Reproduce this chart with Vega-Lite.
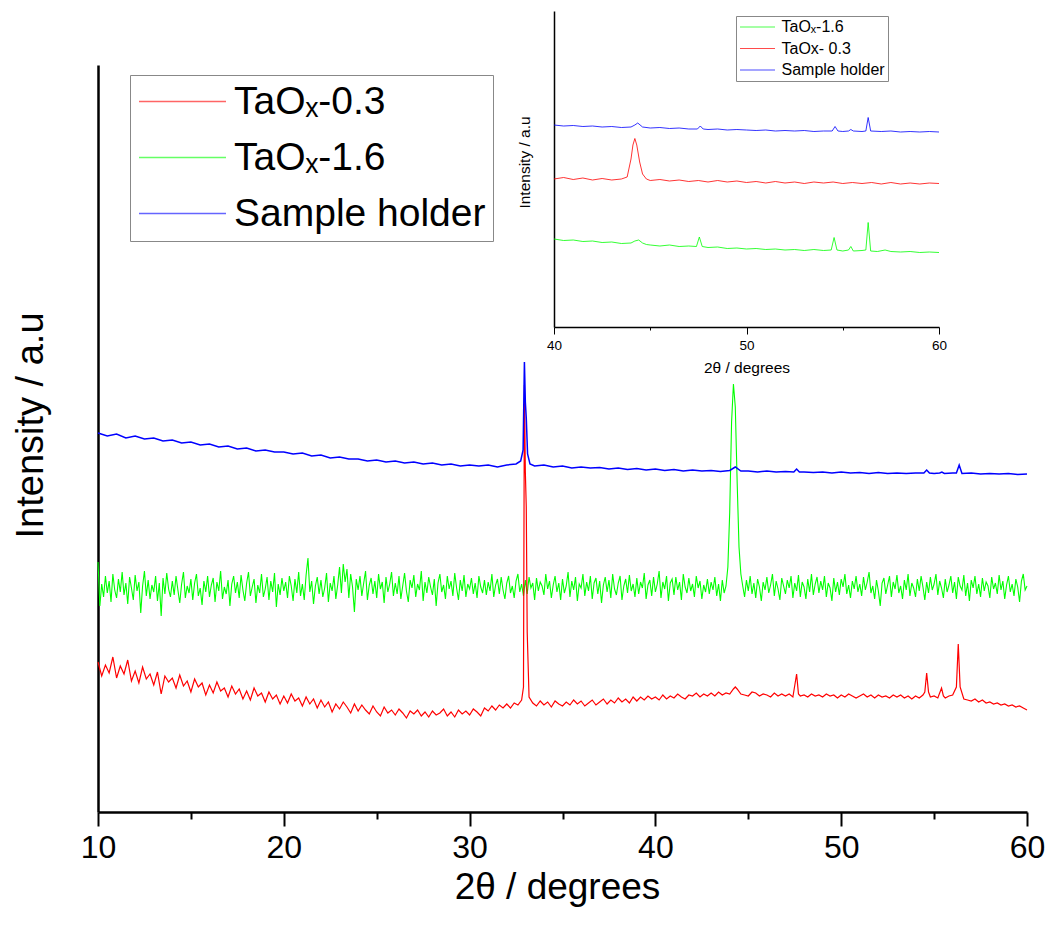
{
"$schema": "https://vega.github.io/schema/vega-lite/v6.json",
"width": 929, "height": 747,
"autosize": {"type": "none"},
"padding": {"left": 98, "top": 65, "right": 22, "bottom": 122},
"background": "white",
"config": {"view": {"stroke": null}, "font": "Liberation Sans", "axis": {"grid": false, "labelColor": "black", "titleColor": "black", "titleFontWeight": "normal"}},
"datasets": {
"mainGreen": [
{"t":10.0,"v":250},{"t":10.1,"v":206},{"t":10.2,"v":228},{"t":10.3,"v":215},{"t":10.4,"v":236},{"t":10.5,"v":219},{"t":10.6,"v":231},{"t":10.7,"v":210},{"t":10.8,"v":238},{"t":10.9,"v":222},
{"t":11.0,"v":214},{"t":11.1,"v":233},{"t":11.2,"v":220},{"t":11.3,"v":240},{"t":11.4,"v":217},{"t":11.5,"v":229},{"t":11.6,"v":208},{"t":11.7,"v":235},{"t":11.8,"v":224},{"t":11.9,"v":212},
{"t":12.0,"v":237},{"t":12.1,"v":221},{"t":12.2,"v":230},{"t":12.3,"v":199},{"t":12.4,"v":226},{"t":12.5,"v":241},{"t":12.6,"v":216},{"t":12.7,"v":232},{"t":12.8,"v":213},{"t":12.9,"v":227},
{"t":13.0,"v":220},{"t":13.1,"v":236},{"t":13.2,"v":211},{"t":13.3,"v":229},{"t":13.4,"v":196},{"t":13.5,"v":234},{"t":13.6,"v":218},{"t":13.7,"v":239},{"t":13.8,"v":223},{"t":13.9,"v":215},
{"t":14.0,"v":231},{"t":14.1,"v":217},{"t":14.2,"v":236},{"t":14.3,"v":222},{"t":14.4,"v":209},{"t":14.5,"v":228},{"t":14.6,"v":240},{"t":14.7,"v":214},{"t":14.8,"v":226},{"t":14.9,"v":219},
{"t":15.0,"v":233},{"t":15.1,"v":212},{"t":15.2,"v":229},{"t":15.3,"v":238},{"t":15.4,"v":216},{"t":15.5,"v":224},{"t":15.6,"v":207},{"t":15.7,"v":231},{"t":15.8,"v":220},{"t":15.9,"v":236},
{"t":16.0,"v":215},{"t":16.1,"v":227},{"t":16.2,"v":234},{"t":16.3,"v":210},{"t":16.4,"v":230},{"t":16.5,"v":221},{"t":16.6,"v":241},{"t":16.7,"v":213},{"t":16.8,"v":225},{"t":16.9,"v":218},
{"t":17.0,"v":232},{"t":17.1,"v":206},{"t":17.2,"v":228},{"t":17.3,"v":236},{"t":17.4,"v":219},{"t":17.5,"v":230},{"t":17.6,"v":214},{"t":17.7,"v":237},{"t":17.8,"v":222},{"t":17.9,"v":211},
{"t":18.0,"v":229},{"t":18.1,"v":240},{"t":18.2,"v":216},{"t":18.3,"v":225},{"t":18.4,"v":233},{"t":18.5,"v":209},{"t":18.6,"v":227},{"t":18.7,"v":219},{"t":18.8,"v":238},{"t":18.9,"v":215},
{"t":19.0,"v":223},{"t":19.1,"v":235},{"t":19.2,"v":212},{"t":19.3,"v":231},{"t":19.4,"v":220},{"t":19.5,"v":239},{"t":19.6,"v":205},{"t":19.7,"v":228},{"t":19.8,"v":217},{"t":19.9,"v":234},
{"t":20.0,"v":221},{"t":20.1,"v":230},{"t":20.2,"v":214},{"t":20.3,"v":236},{"t":20.4,"v":226},{"t":20.5,"v":211},{"t":20.6,"v":233},{"t":20.7,"v":219},{"t":20.8,"v":240},{"t":20.9,"v":216},
{"t":21.0,"v":228},{"t":21.1,"v":212},{"t":21.2,"v":237},{"t":21.3,"v":254},{"t":21.4,"v":220},{"t":21.5,"v":231},{"t":21.6,"v":208},{"t":21.7,"v":226},{"t":21.8,"v":235},{"t":21.9,"v":218},
{"t":22.0,"v":232},{"t":22.1,"v":215},{"t":22.2,"v":224},{"t":22.3,"v":239},{"t":22.4,"v":210},{"t":22.5,"v":229},{"t":22.6,"v":221},{"t":22.7,"v":236},{"t":22.8,"v":213},{"t":22.9,"v":227},
{"t":23.0,"v":245},{"t":23.1,"v":219},{"t":23.2,"v":248},{"t":23.3,"v":230},{"t":23.4,"v":243},{"t":23.5,"v":214},{"t":23.6,"v":238},{"t":23.7,"v":225},{"t":23.8,"v":200},{"t":23.9,"v":233},
{"t":24.0,"v":222},{"t":24.1,"v":236},{"t":24.2,"v":216},{"t":24.3,"v":229},{"t":24.4,"v":241},{"t":24.5,"v":212},{"t":24.6,"v":227},{"t":24.7,"v":234},{"t":24.8,"v":218},{"t":24.9,"v":231},
{"t":25.0,"v":214},{"t":25.1,"v":238},{"t":25.2,"v":223},{"t":25.3,"v":230},{"t":25.4,"v":209},{"t":25.5,"v":235},{"t":25.6,"v":220},{"t":25.7,"v":228},{"t":25.8,"v":240},{"t":25.9,"v":216},
{"t":26.0,"v":229},{"t":26.1,"v":218},{"t":26.2,"v":236},{"t":26.3,"v":213},{"t":26.4,"v":226},{"t":26.5,"v":239},{"t":26.6,"v":221},{"t":26.7,"v":210},{"t":26.8,"v":232},{"t":26.9,"v":224},
{"t":27.0,"v":237},{"t":27.1,"v":215},{"t":27.2,"v":228},{"t":27.3,"v":222},{"t":27.4,"v":241},{"t":27.5,"v":211},{"t":27.6,"v":230},{"t":27.7,"v":219},{"t":27.8,"v":235},{"t":27.9,"v":225},
{"t":28.0,"v":217},{"t":28.1,"v":233},{"t":28.2,"v":206},{"t":28.3,"v":229},{"t":28.4,"v":238},{"t":28.5,"v":220},{"t":28.6,"v":227},{"t":28.7,"v":213},{"t":28.8,"v":236},{"t":28.9,"v":223},
{"t":29.0,"v":231},{"t":29.1,"v":216},{"t":29.2,"v":239},{"t":29.3,"v":224},{"t":29.4,"v":212},{"t":29.5,"v":232},{"t":29.6,"v":221},{"t":29.7,"v":237},{"t":29.8,"v":215},{"t":29.9,"v":228},
{"t":30.0,"v":223},{"t":30.1,"v":234},{"t":30.2,"v":218},{"t":30.3,"v":229},{"t":30.4,"v":214},{"t":30.5,"v":236},{"t":30.6,"v":225},{"t":30.7,"v":219},{"t":30.8,"v":232},{"t":30.9,"v":217},
{"t":31.0,"v":230},{"t":31.1,"v":221},{"t":31.2,"v":238},{"t":31.3,"v":215},{"t":31.4,"v":227},{"t":31.5,"v":233},{"t":31.6,"v":218},{"t":31.7,"v":235},{"t":31.8,"v":222},{"t":31.9,"v":213},
{"t":32.0,"v":229},{"t":32.1,"v":236},{"t":32.2,"v":219},{"t":32.3,"v":226},{"t":32.4,"v":214},{"t":32.5,"v":231},{"t":32.6,"v":238},{"t":32.7,"v":220},{"t":32.8,"v":228},{"t":32.9,"v":216},
{"t":33.0,"v":232},{"t":33.1,"v":218},{"t":33.2,"v":235},{"t":33.3,"v":224},{"t":33.4,"v":229},{"t":33.5,"v":212},{"t":33.6,"v":234},{"t":33.7,"v":221},{"t":33.8,"v":230},{"t":33.9,"v":226},
{"t":34.0,"v":217},{"t":34.1,"v":238},{"t":34.2,"v":223},{"t":34.3,"v":231},{"t":34.4,"v":214},{"t":34.5,"v":227},{"t":34.6,"v":236},{"t":34.7,"v":220},{"t":34.8,"v":229},{"t":34.9,"v":212},
{"t":35.0,"v":233},{"t":35.1,"v":219},{"t":35.2,"v":226},{"t":35.3,"v":240},{"t":35.4,"v":215},{"t":35.5,"v":231},{"t":35.6,"v":222},{"t":35.7,"v":235},{"t":35.8,"v":211},{"t":35.9,"v":228},
{"t":36.0,"v":224},{"t":36.1,"v":238},{"t":36.2,"v":216},{"t":36.3,"v":230},{"t":36.4,"v":221},{"t":36.5,"v":236},{"t":36.6,"v":213},{"t":36.7,"v":229},{"t":36.8,"v":234},{"t":36.9,"v":218},
{"t":37.0,"v":231},{"t":37.1,"v":209},{"t":37.2,"v":227},{"t":37.3,"v":235},{"t":37.4,"v":220},{"t":37.5,"v":232},{"t":37.6,"v":214},{"t":37.7,"v":238},{"t":37.8,"v":223},{"t":37.9,"v":217},
{"t":38.0,"v":229},{"t":38.1,"v":236},{"t":38.2,"v":212},{"t":38.3,"v":226},{"t":38.4,"v":233},{"t":38.5,"v":219},{"t":38.6,"v":237},{"t":38.7,"v":221},{"t":38.8,"v":228},{"t":38.9,"v":215},
{"t":39.0,"v":234},{"t":39.1,"v":218},{"t":39.2,"v":230},{"t":39.3,"v":224},{"t":39.4,"v":239},{"t":39.5,"v":213},{"t":39.6,"v":227},{"t":39.7,"v":232},{"t":39.8,"v":216},{"t":39.9,"v":235},
{"t":40.0,"v":220},{"t":40.1,"v":228},{"t":40.2,"v":241},{"t":40.3,"v":214},{"t":40.4,"v":230},{"t":40.5,"v":223},{"t":40.6,"v":236},{"t":40.7,"v":211},{"t":40.8,"v":229},{"t":40.9,"v":233},
{"t":41.0,"v":217},{"t":41.1,"v":235},{"t":41.2,"v":222},{"t":41.3,"v":230},{"t":41.4,"v":212},{"t":41.5,"v":238},{"t":41.6,"v":225},{"t":41.7,"v":219},{"t":41.8,"v":234},{"t":41.9,"v":221},
{"t":42.0,"v":228},{"t":42.1,"v":215},{"t":42.2,"v":236},{"t":42.3,"v":224},{"t":42.4,"v":231},{"t":42.5,"v":213},{"t":42.6,"v":227},{"t":42.7,"v":220},{"t":42.8,"v":233},{"t":42.9,"v":218},
{"t":43.0,"v":230},{"t":43.1,"v":222},{"t":43.2,"v":235},{"t":43.3,"v":216},{"t":43.4,"v":228},{"t":43.5,"v":211},{"t":43.6,"v":232},{"t":43.7,"v":219},{"t":43.8,"v":226},{"t":43.9,"v":245},
{"t":44.0,"v":300},{"t":44.1,"v":390},{"t":44.2,"v":428},{"t":44.3,"v":405},{"t":44.4,"v":330},{"t":44.5,"v":265},{"t":44.6,"v":238},{"t":44.7,"v":226},{"t":44.8,"v":215},{"t":44.9,"v":232},
{"t":45.0,"v":221},{"t":45.1,"v":236},{"t":45.2,"v":218},{"t":45.3,"v":229},{"t":45.4,"v":214},{"t":45.5,"v":233},{"t":45.6,"v":225},{"t":45.7,"v":211},{"t":45.8,"v":230},{"t":45.9,"v":222},
{"t":46.0,"v":235},{"t":46.1,"v":219},{"t":46.2,"v":227},{"t":46.3,"v":238},{"t":46.4,"v":216},{"t":46.5,"v":231},{"t":46.6,"v":223},{"t":46.7,"v":212},{"t":46.8,"v":234},{"t":46.9,"v":226},
{"t":47.0,"v":218},{"t":47.1,"v":232},{"t":47.2,"v":224},{"t":47.3,"v":236},{"t":47.4,"v":214},{"t":47.5,"v":229},{"t":47.6,"v":221},{"t":47.7,"v":237},{"t":47.8,"v":215},{"t":47.9,"v":230},
{"t":48.0,"v":225},{"t":48.1,"v":213},{"t":48.2,"v":233},{"t":48.3,"v":220},{"t":48.4,"v":238},{"t":48.5,"v":217},{"t":48.6,"v":228},{"t":48.7,"v":235},{"t":48.8,"v":219},{"t":48.9,"v":231},
{"t":49.0,"v":222},{"t":49.1,"v":236},{"t":49.2,"v":215},{"t":49.3,"v":229},{"t":49.4,"v":224},{"t":49.5,"v":211},{"t":49.6,"v":234},{"t":49.7,"v":220},{"t":49.8,"v":230},{"t":49.9,"v":217},
{"t":50.0,"v":233},{"t":50.1,"v":225},{"t":50.2,"v":238},{"t":50.3,"v":218},{"t":50.4,"v":227},{"t":50.5,"v":214},{"t":50.6,"v":231},{"t":50.7,"v":223},{"t":50.8,"v":236},{"t":50.9,"v":220},
{"t":51.0,"v":228},{"t":51.1,"v":216},{"t":51.2,"v":235},{"t":51.3,"v":222},{"t":51.4,"v":230},{"t":51.5,"v":240},{"t":51.6,"v":219},{"t":51.7,"v":226},{"t":51.8,"v":213},{"t":51.9,"v":232},
{"t":52.0,"v":221},{"t":52.1,"v":206},{"t":52.2,"v":229},{"t":52.3,"v":234},{"t":52.4,"v":218},{"t":52.5,"v":227},{"t":52.6,"v":236},{"t":52.7,"v":215},{"t":52.8,"v":230},{"t":52.9,"v":223},
{"t":53.0,"v":237},{"t":53.1,"v":219},{"t":53.2,"v":226},{"t":53.3,"v":213},{"t":53.4,"v":232},{"t":53.5,"v":222},{"t":53.6,"v":238},{"t":53.7,"v":216},{"t":53.8,"v":229},{"t":53.9,"v":224},
{"t":54.0,"v":215},{"t":54.1,"v":233},{"t":54.2,"v":221},{"t":54.3,"v":236},{"t":54.4,"v":225},{"t":54.5,"v":212},{"t":54.6,"v":230},{"t":54.7,"v":219},{"t":54.8,"v":235},{"t":54.9,"v":222},
{"t":55.0,"v":228},{"t":55.1,"v":238},{"t":55.2,"v":217},{"t":55.3,"v":231},{"t":55.4,"v":224},{"t":55.5,"v":214},{"t":55.6,"v":233},{"t":55.7,"v":220},{"t":55.8,"v":227},{"t":55.9,"v":236},
{"t":56.0,"v":219},{"t":56.1,"v":230},{"t":56.2,"v":213},{"t":56.3,"v":235},{"t":56.4,"v":226},{"t":56.5,"v":222},{"t":56.6,"v":237},{"t":56.7,"v":216},{"t":56.8,"v":229},{"t":56.9,"v":211},
{"t":57.0,"v":232},{"t":57.1,"v":224},{"t":57.2,"v":236},{"t":57.3,"v":218},{"t":57.4,"v":228},{"t":57.5,"v":215},{"t":57.6,"v":234},{"t":57.7,"v":221},{"t":57.8,"v":230},{"t":57.9,"v":226},
{"t":58.0,"v":214},{"t":58.1,"v":235},{"t":58.2,"v":223},{"t":58.3,"v":229},{"t":58.4,"v":218},{"t":58.5,"v":237},{"t":58.6,"v":222},{"t":58.7,"v":231},{"t":58.8,"v":213},{"t":58.9,"v":227},
{"t":59.0,"v":236},{"t":59.1,"v":220},{"t":59.2,"v":228},{"t":59.3,"v":216},{"t":59.4,"v":233},{"t":59.5,"v":225},{"t":59.6,"v":210},{"t":59.7,"v":231},{"t":59.8,"v":238},{"t":59.9,"v":222},
{"t":60.0,"v":226}
],
"mainRed": [
{"t":10.0,"v":150},{"t":10.2,"v":136},{"t":10.4,"v":147},{"t":10.6,"v":139},{"t":10.8,"v":155},
{"t":11.0,"v":134},{"t":11.2,"v":146},{"t":11.4,"v":138},{"t":11.6,"v":152},{"t":11.8,"v":131},
{"t":12.0,"v":141},{"t":12.2,"v":129},{"t":12.4,"v":145},{"t":12.6,"v":133},{"t":12.8,"v":138},
{"t":13.0,"v":127},{"t":13.2,"v":140},{"t":13.4,"v":118},{"t":13.6,"v":136},{"t":13.8,"v":130},
{"t":14.0,"v":134},{"t":14.2,"v":124},{"t":14.4,"v":137},{"t":14.6,"v":126},{"t":14.8,"v":131},
{"t":15.0,"v":120},{"t":15.2,"v":133},{"t":15.4,"v":125},{"t":15.6,"v":129},{"t":15.8,"v":117},
{"t":16.0,"v":127},{"t":16.2,"v":119},{"t":16.4,"v":130},{"t":16.6,"v":121},{"t":16.8,"v":124},
{"t":17.0,"v":115},{"t":17.2,"v":126},{"t":17.4,"v":118},{"t":17.6,"v":123},{"t":17.8,"v":113},
{"t":18.0,"v":121},{"t":18.2,"v":112},{"t":18.4,"v":124},{"t":18.6,"v":116},{"t":18.8,"v":119},
{"t":19.0,"v":110},{"t":19.2,"v":120},{"t":19.4,"v":113},{"t":19.6,"v":117},{"t":19.8,"v":108},
{"t":20.0,"v":116},{"t":20.2,"v":109},{"t":20.4,"v":118},{"t":20.6,"v":111},{"t":20.8,"v":114},
{"t":21.0,"v":106},{"t":21.2,"v":115},{"t":21.4,"v":108},{"t":21.6,"v":113},{"t":21.8,"v":104},
{"t":22.0,"v":112},{"t":22.2,"v":105},{"t":22.4,"v":110},{"t":22.6,"v":100},{"t":22.8,"v":108},
{"t":23.0,"v":103},{"t":23.2,"v":110},{"t":23.4,"v":105},{"t":23.6,"v":99},{"t":23.8,"v":108},
{"t":24.0,"v":101},{"t":24.2,"v":107},{"t":24.4,"v":102},{"t":24.6,"v":98},{"t":24.8,"v":106},
{"t":25.0,"v":100},{"t":25.2,"v":96},{"t":25.4,"v":105},{"t":25.6,"v":99},{"t":25.8,"v":102},
{"t":26.0,"v":97},{"t":26.2,"v":103},{"t":26.4,"v":99},{"t":26.6,"v":94},{"t":26.8,"v":101},
{"t":27.0,"v":98},{"t":27.2,"v":102},{"t":27.4,"v":96},{"t":27.6,"v":100},{"t":27.8,"v":95},
{"t":28.0,"v":101},{"t":28.2,"v":97},{"t":28.4,"v":99},{"t":28.6,"v":103},{"t":28.8,"v":96},
{"t":29.0,"v":100},{"t":29.2,"v":95},{"t":29.4,"v":102},{"t":29.6,"v":98},{"t":29.8,"v":101},
{"t":30.0,"v":97},{"t":30.2,"v":103},{"t":30.4,"v":100},{"t":30.6,"v":96},{"t":30.8,"v":104},
{"t":31.0,"v":101},{"t":31.2,"v":106},{"t":31.4,"v":102},{"t":31.6,"v":107},{"t":31.8,"v":104},
{"t":32.0,"v":108},{"t":32.2,"v":104},{"t":32.4,"v":109},{"t":32.6,"v":107},{"t":32.8,"v":112},{"t":32.9,"v":125},{"t":32.95,"v":427},{"t":33.0,"v":340},{"t":33.05,"v":305},{"t":33.1,"v":180},{"t":33.2,"v":115},{"t":33.4,"v":109},{"t":33.6,"v":106},{"t":33.8,"v":111},
{"t":34.0,"v":107},{"t":34.2,"v":110},{"t":34.4,"v":105},{"t":34.6,"v":111},{"t":34.8,"v":108},
{"t":35.0,"v":106},{"t":35.2,"v":110},{"t":35.4,"v":107},{"t":35.6,"v":112},{"t":35.8,"v":108},
{"t":36.0,"v":111},{"t":36.2,"v":106},{"t":36.4,"v":109},{"t":36.6,"v":112},{"t":36.8,"v":107},
{"t":37.0,"v":110},{"t":37.2,"v":113},{"t":37.4,"v":108},{"t":37.6,"v":112},{"t":37.8,"v":109},
{"t":38.0,"v":114},{"t":38.2,"v":110},{"t":38.4,"v":113},{"t":38.6,"v":109},{"t":38.8,"v":115},
{"t":39.0,"v":111},{"t":39.2,"v":115},{"t":39.4,"v":112},{"t":39.6,"v":116},{"t":39.8,"v":113},
{"t":40.0,"v":115},{"t":40.2,"v":112},{"t":40.4,"v":117},{"t":40.6,"v":113},{"t":40.8,"v":116},
{"t":41.0,"v":114},{"t":41.2,"v":118},{"t":41.4,"v":115},{"t":41.6,"v":113},{"t":41.8,"v":117},
{"t":42.0,"v":116},{"t":42.2,"v":119},{"t":42.4,"v":115},{"t":42.6,"v":118},{"t":42.8,"v":116},
{"t":43.0,"v":119},{"t":43.2,"v":116},{"t":43.4,"v":120},{"t":43.6,"v":117},{"t":43.8,"v":119},
{"t":44.0,"v":118},{"t":44.2,"v":123},{"t":44.3,"v":125},{"t":44.4,"v":123},{"t":44.6,"v":118},{"t":44.8,"v":117},
{"t":45.0,"v":116},{"t":45.2,"v":120},{"t":45.4,"v":119},{"t":45.6,"v":116},{"t":45.8,"v":118},
{"t":46.0,"v":117},{"t":46.2,"v":115},{"t":46.4,"v":119},{"t":46.6,"v":116},{"t":46.8,"v":118},
{"t":47.0,"v":116},{"t":47.2,"v":118},{"t":47.4,"v":115},{"t":47.6,"v":138},{"t":47.7,"v":118},{"t":47.8,"v":116},
{"t":48.0,"v":117},{"t":48.2,"v":115},{"t":48.4,"v":118},{"t":48.6,"v":116},{"t":48.8,"v":117},
{"t":49.0,"v":115},{"t":49.2,"v":118},{"t":49.4,"v":116},{"t":49.6,"v":117},{"t":49.8,"v":114},
{"t":50.0,"v":117},{"t":50.2,"v":115},{"t":50.4,"v":118},{"t":50.6,"v":116},{"t":50.8,"v":114},
{"t":51.0,"v":116},{"t":51.2,"v":118},{"t":51.4,"v":115},{"t":51.6,"v":117},{"t":51.8,"v":114},
{"t":52.0,"v":117},{"t":52.2,"v":115},{"t":52.4,"v":116},{"t":52.6,"v":114},{"t":52.8,"v":117},
{"t":53.0,"v":115},{"t":53.2,"v":117},{"t":53.4,"v":114},{"t":53.6,"v":116},{"t":53.8,"v":113},
{"t":54.0,"v":116},{"t":54.2,"v":114},{"t":54.4,"v":117},{"t":54.5,"v":120},{"t":54.6,"v":139},{"t":54.7,"v":120},{"t":54.8,"v":115},
{"t":55.0,"v":116},{"t":55.2,"v":114},{"t":55.4,"v":124},{"t":55.5,"v":116},{"t":55.6,"v":114},{"t":55.8,"v":116},
{"t":56.0,"v":117},{"t":56.2,"v":125},{"t":56.3,"v":168},{"t":56.4,"v":125},{"t":56.6,"v":113},{"t":56.8,"v":112},
{"t":57.0,"v":111},{"t":57.2,"v":113},{"t":57.4,"v":110},{"t":57.6,"v":112},{"t":57.8,"v":109},
{"t":58.0,"v":110},{"t":58.2,"v":108},{"t":58.4,"v":109},{"t":58.6,"v":107},{"t":58.8,"v":108},
{"t":59.0,"v":106},{"t":59.2,"v":107},{"t":59.4,"v":105},{"t":59.6,"v":106},{"t":59.8,"v":104},
{"t":60.0,"v":102}
],
"mainBlue": [
{"t":10.0,"v":379},{"t":10.5,"v":376},{"t":11.0,"v":378},{"t":11.5,"v":374},{"t":12.0,"v":376},{"t":12.5,"v":373},{"t":13.0,"v":374},{"t":13.5,"v":371},{"t":14.0,"v":372},{"t":14.5,"v":369},
{"t":15.0,"v":370},{"t":15.5,"v":367},{"t":16.0,"v":368},{"t":16.5,"v":365},{"t":17.0,"v":366},{"t":17.5,"v":363},{"t":18.0,"v":364},{"t":18.5,"v":361},{"t":19.0,"v":362},{"t":19.5,"v":360},
{"t":20.0,"v":360},{"t":20.5,"v":358},{"t":21.0,"v":359},{"t":21.5,"v":356},{"t":22.0,"v":357},{"t":22.5,"v":354},{"t":23.0,"v":355},{"t":23.5,"v":353},{"t":24.0,"v":353},{"t":24.5,"v":351},
{"t":25.0,"v":352},{"t":25.5,"v":350},{"t":26.0,"v":351},{"t":26.5,"v":349},{"t":27.0,"v":350},{"t":27.5,"v":348},{"t":28.0,"v":349},{"t":28.5,"v":347},{"t":29.0,"v":348},{"t":29.5,"v":346},
{"t":30.0,"v":347},{"t":30.5,"v":346},{"t":31.0,"v":347},{"t":31.5,"v":345},{"t":32.0,"v":347},{"t":32.5,"v":348},{"t":32.75,"v":351},{"t":32.88,"v":362},{"t":32.95,"v":450},{"t":33.0,"v":410},{"t":33.05,"v":394},{"t":33.12,"v":358},{"t":33.25,"v":348},{"t":33.5,"v":346},
{"t":34.0,"v":347},{"t":34.5,"v":345},{"t":35.0,"v":346},{"t":35.5,"v":344},{"t":36.0,"v":345},{"t":36.5,"v":344},{"t":37.0,"v":344.5},{"t":37.5,"v":343},{"t":38.0,"v":344},{"t":38.5,"v":342.5},
{"t":39.0,"v":343.5},{"t":39.5,"v":342},{"t":40.0,"v":343},{"t":40.5,"v":341.5},{"t":41.0,"v":342.5},{"t":41.5,"v":341},{"t":42.0,"v":342},{"t":42.5,"v":341},{"t":43.0,"v":341.5},{"t":43.5,"v":340.5},
{"t":44.0,"v":341.5},{"t":44.3,"v":345},{"t":44.6,"v":341},{"t":45.0,"v":341},{"t":45.5,"v":340},{"t":46.0,"v":341},{"t":46.5,"v":340},{"t":47.0,"v":340.5},{"t":47.45,"v":340},{"t":47.6,"v":343},{"t":47.75,"v":340},
{"t":48.0,"v":340},{"t":48.5,"v":339.5},{"t":49.0,"v":340},{"t":49.5,"v":339},{"t":50.0,"v":340},{"t":50.5,"v":339},{"t":51.0,"v":339.5},{"t":51.5,"v":338.5},{"t":52.0,"v":339.5},{"t":52.5,"v":338.5},
{"t":53.0,"v":339},{"t":53.5,"v":338.5},{"t":54.0,"v":339},{"t":54.45,"v":339},{"t":54.6,"v":342},{"t":54.75,"v":339},{"t":55.0,"v":338.5},{"t":55.3,"v":339},{"t":55.42,"v":340},{"t":55.55,"v":338.5},
{"t":56.0,"v":339},{"t":56.2,"v":339},{"t":56.35,"v":347},{"t":56.5,"v":338.5},{"t":57.0,"v":339},{"t":57.5,"v":338},{"t":58.0,"v":338.5},{"t":58.5,"v":338},{"t":59.0,"v":338.5},{"t":59.5,"v":337.5},{"t":60.0,"v":338}
],
"insetGreen": [
{"t":40.0,"v":88},{"t":40.5,"v":86.5},{"t":41.0,"v":87},{"t":41.5,"v":85.5},{"t":42.0,"v":86},{"t":42.5,"v":84.5},{"t":43.0,"v":85},{"t":43.5,"v":83.5},{"t":44.0,"v":84},{"t":44.2,"v":86},{"t":44.4,"v":87},{"t":44.6,"v":84},{"t":44.8,"v":82.5},
{"t":45.0,"v":82},{"t":45.5,"v":81},{"t":46.0,"v":82},{"t":46.5,"v":80.5},{"t":47.0,"v":81},{"t":47.4,"v":80.5},{"t":47.55,"v":90},{"t":47.7,"v":80.5},{"t":48.0,"v":79.5},{"t":48.5,"v":80},{"t":49.0,"v":78.5},{"t":49.5,"v":79},
{"t":50.0,"v":78},{"t":50.5,"v":78.5},{"t":51.0,"v":77.5},{"t":51.5,"v":78},{"t":52.0,"v":77},{"t":52.5,"v":77.5},{"t":53.0,"v":76.5},{"t":53.5,"v":77.5},{"t":54.0,"v":76.5},{"t":54.4,"v":77},{"t":54.55,"v":89.5},{"t":54.7,"v":77},
{"t":55.0,"v":76},{"t":55.3,"v":77},{"t":55.42,"v":80.5},{"t":55.55,"v":76},{"t":56.0,"v":76.5},{"t":56.2,"v":77},{"t":56.32,"v":104.5},{"t":56.45,"v":76},{"t":56.8,"v":75.5},{"t":57.2,"v":77},{"t":57.5,"v":75.5},
{"t":58.0,"v":75},{"t":58.5,"v":75.5},{"t":59.0,"v":74.5},{"t":59.5,"v":75},{"t":60.0,"v":74.5}
],
"insetRed": [
{"t":40.0,"v":148},{"t":40.5,"v":149.5},{"t":41.0,"v":147.5},{"t":41.5,"v":149},{"t":42.0,"v":147},{"t":42.5,"v":148.5},{"t":43.0,"v":147},{"t":43.5,"v":148},{"t":43.8,"v":150},{"t":44.0,"v":168},{"t":44.1,"v":182},{"t":44.2,"v":188.5},{"t":44.3,"v":182},{"t":44.45,"v":165},{"t":44.6,"v":153},{"t":44.8,"v":148},
{"t":45.0,"v":146.5},{"t":45.5,"v":147.5},{"t":46.0,"v":146},{"t":46.5,"v":147},{"t":47.0,"v":145.5},{"t":47.5,"v":146.5},{"t":48.0,"v":145},{"t":48.5,"v":146.5},{"t":49.0,"v":145},{"t":49.5,"v":146},
{"t":50.0,"v":144.5},{"t":50.5,"v":145.5},{"t":51.0,"v":144},{"t":51.5,"v":145.5},{"t":52.0,"v":144},{"t":52.5,"v":145},{"t":53.0,"v":143.5},{"t":53.5,"v":145},{"t":54.0,"v":144},{"t":54.5,"v":145},
{"t":55.0,"v":143.5},{"t":55.5,"v":144.5},{"t":56.0,"v":143.5},{"t":56.5,"v":144.5},{"t":57.0,"v":143},{"t":57.5,"v":144.5},{"t":58.0,"v":143},{"t":58.5,"v":144},{"t":59.0,"v":143},{"t":59.5,"v":144},{"t":60.0,"v":143.5}
],
"insetBlue": [
{"t":40.0,"v":202},{"t":40.5,"v":201},{"t":41.0,"v":201.5},{"t":41.5,"v":200.5},{"t":42.0,"v":201},{"t":42.5,"v":200},{"t":43.0,"v":200.5},{"t":43.5,"v":199.5},{"t":44.0,"v":200},{"t":44.2,"v":202},{"t":44.35,"v":204},{"t":44.6,"v":200},
{"t":45.0,"v":199},{"t":45.5,"v":199.5},{"t":46.0,"v":198.5},{"t":46.5,"v":199},{"t":47.0,"v":198},{"t":47.45,"v":198},{"t":47.6,"v":201},{"t":47.75,"v":198},{"t":48.0,"v":197.5},{"t":48.5,"v":198},{"t":49.0,"v":197},{"t":49.5,"v":197.5},
{"t":50.0,"v":197},{"t":50.5,"v":196.5},{"t":51.0,"v":197},{"t":51.5,"v":196},{"t":52.0,"v":196.5},{"t":52.5,"v":196},{"t":53.0,"v":196.5},{"t":53.5,"v":195.5},{"t":54.0,"v":196},{"t":54.45,"v":196},{"t":54.6,"v":200.5},{"t":54.75,"v":196},
{"t":55.0,"v":195.5},{"t":55.3,"v":196},{"t":55.42,"v":197.5},{"t":55.55,"v":196},{"t":56.0,"v":195.5},{"t":56.2,"v":196},{"t":56.32,"v":209.5},{"t":56.45,"v":196},{"t":57.0,"v":195.5},{"t":57.5,"v":196},{"t":58.0,"v":195},{"t":58.5,"v":195.5},{"t":59.0,"v":195},{"t":59.5,"v":195.5},{"t":60.0,"v":195}
]
},
"layer": [
{
"encoding": {
"x": {"field": "t", "type": "quantitative", "scale": {"domain": [10, 60], "nice": false, "zero": false},
 "axis": {"orient": "bottom", "values": [10,15,20,25,30,35,40,45,50,55,60], "labelExpr": "datum.value % 10 === 0 ? datum.label : ''",
  "tickSize": {"condition": {"test": "datum.value % 10 === 0", "value": 14}, "value": 7},
  "tickColor": "black", "tickWidth": 2, "domainColor": "black", "domainWidth": 2.5,
  "labelFontSize": 32, "labelPadding": 6, "labelFlush": false, "labelOverlap": false,
  "title": "2θ / degrees", "titleFontSize": 37, "titlePadding": 6, "titleX": 459}},
"y": {"field": "v", "type": "quantitative", "scale": {"domain": [0, 747], "nice": false, "zero": false},
 "axis": {"orient": "left", "ticks": false, "labels": false, "domainColor": "black", "domainWidth": 2.5,
  "title": "Intensity / a.u", "titleFontSize": 38, "titlePadding": 48, "titleY": 360}}
},
"layer": [
{"data": {"name": "mainGreen"}, "mark": {"type": "line", "strokeWidth": 1.1},
 "encoding": {"color": {"datum": "TaOₓ-1.6", "type": "nominal",
  "scale": {"domain": ["TaOₓ-0.3", "TaOₓ-1.6", "Sample holder"], "range": ["#ff0000", "#00ff00", "#0000ff"]},
  "legend": {"orient": "none", "legendX": 32, "legendY": 10, "title": null, "symbolType": "M-2.5,0H2.5", "symbolSize": 1211, "symbolStrokeWidth": 1.5, "symbolOpacity": 0.6,
   "symbolOffset": 26, "labelOffset": 32,
   "labelFontSize": 39, "labelColor": "black", "labelLimit": 500, "strokeColor": "#888888", "fillColor": "white", "padding": 7, "rowPadding": 16}}}},
{"data": {"name": "mainRed"}, "mark": {"type": "line", "strokeWidth": 1.2},
 "encoding": {"color": {"datum": "TaOₓ-0.3", "type": "nominal",
  "scale": {"domain": ["TaOₓ-0.3", "TaOₓ-1.6", "Sample holder"], "range": ["#ff0000", "#00ff00", "#0000ff"]}}}},
{"data": {"name": "mainBlue"}, "mark": {"type": "line", "strokeWidth": 1.5},
 "encoding": {"color": {"datum": "Sample holder", "type": "nominal",
  "scale": {"domain": ["TaOₓ-0.3", "TaOₓ-1.6", "Sample holder"], "range": ["#ff0000", "#00ff00", "#0000ff"]}}}}
]
},
{
"encoding": {
"x": {"field": "t", "type": "quantitative", "scale": {"domain": [40, 60], "nice": false, "zero": false, "range": [456, 841]},
 "axis": {"orient": "bottom", "offset": -485, "values": [40,45,50,55,60], "labelExpr": "datum.value % 10 === 0 ? datum.label : ''",
  "tickSize": {"condition": {"test": "datum.value % 10 === 0", "value": 7}, "value": 3},
  "tickColor": "black", "tickWidth": 1, "domainColor": "black", "domainWidth": 1.5,
  "labelFontSize": 13.5, "labelPadding": 4, "labelFlush": false, "labelOverlap": false,
  "title": "2θ / degrees", "titleFontSize": 15.5, "titlePadding": 9}},
"y": {"field": "v", "type": "quantitative", "scale": {"domain": [0, 316], "nice": false, "zero": false, "range": [262, -54]},
 "axis": {"orient": "left", "offset": -456, "ticks": false, "labels": false, "domainColor": "black", "domainWidth": 1.5,
  "title": "Intensity / a.u", "titleFontSize": 15.5, "titlePadding": 22, "titleY": 97}}
},
"layer": [
{"data": {"name": "insetGreen"}, "mark": {"type": "line", "strokeWidth": 0.8},
 "encoding": {"color": {"datum": "TaOₓ-1.6", "type": "nominal",
  "scale": {"domain": ["TaOₓ-1.6", "TaOx- 0.3", "Sample holder"], "range": ["#00ff00", "#ff0000", "#0000ff"]},
  "legend": {"orient": "none", "legendX": 638, "legendY": -49, "title": null, "symbolType": "M-2.5,0H2.5", "symbolSize": 196, "symbolStrokeWidth": 1, "symbolOpacity": 0.7,
   "symbolOffset": 10.5, "labelOffset": 16,
   "labelFontSize": 16, "labelColor": "black", "labelLimit": 300, "strokeColor": "#888888", "fillColor": "white", "padding": 3, "rowPadding": 5.5}}}},
{"data": {"name": "insetRed"}, "mark": {"type": "line", "strokeWidth": 0.8},
 "encoding": {"color": {"datum": "TaOx- 0.3", "type": "nominal",
  "scale": {"domain": ["TaOₓ-1.6", "TaOx- 0.3", "Sample holder"], "range": ["#00ff00", "#ff0000", "#0000ff"]}}}},
{"data": {"name": "insetBlue"}, "mark": {"type": "line", "strokeWidth": 0.8},
 "encoding": {"color": {"datum": "Sample holder", "type": "nominal",
  "scale": {"domain": ["TaOₓ-1.6", "TaOx- 0.3", "Sample holder"], "range": ["#00ff00", "#ff0000", "#0000ff"]}}}}
]
}
],
"resolve": {"scale": {"x": "independent", "y": "independent", "color": "independent"}, "axis": {"x": "independent", "y": "independent"}, "legend": {"color": "independent"}}
}
